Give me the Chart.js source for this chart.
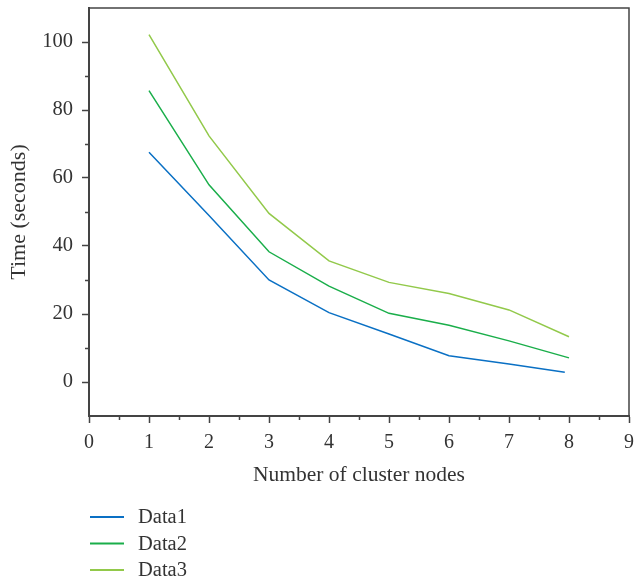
<!DOCTYPE html>
<html>
<head>
<meta charset="utf-8">
<script src="https://cdn.jsdelivr.net/npm/chart.js@4"></script>
<style>
  html, body { margin: 0; padding: 0; background: #fff; }
  #wrap { width: 634px; height: 582px; position: relative; }
</style>
</head>
<body>
<div id="wrap"><canvas id="chart" width="634" height="582"></canvas></div>
<script>
// values
const nodes1 = [1, 2, 3, 4, 5, 6, 7, 7.93];
const nodes = [1, 2, 3, 4, 5, 6, 7, 8];
const data1 = [67.6, 49, 30, 20.4, 14.1, 7.7, 5.3, 2.9];
const data2 = [85.7, 58, 38.3, 28.2, 20.2, 16.7, 12.1, 7.1];
const data3 = [102.2, 72.4, 49.6, 35.6, 29.3, 26, 21.2, 13.3];
const seriesNames = ['Data1', 'Data2', 'Data3'];
const seriesColors = ['#0a70c4', '#1aae4a', '#92c94a'];
const xTitle = 'Number of cluster nodes';
const yTitle = 'Time (seconds)';

const FONT = "'Liberation Serif', 'DejaVu Serif', serif";
const INK = '#333';

function toPoints(xs, ys) {
  return xs.map((x, i) => ({ x: x, y: ys[i] }));
}

function isMajorY(v) {
  return v >= 0 && v <= 100 && v % 20 === 0;
}

// minor ticks + top/right frame lines
const framePlugin = {
  id: 'frame',
  afterDraw(chart) {
    const { ctx, chartArea: a, scales } = chart;
    ctx.save();
    ctx.strokeStyle = '#444';
    ctx.lineWidth = 1.5;
    ctx.beginPath();
    ctx.moveTo(a.left, a.top);
    ctx.lineTo(a.right, a.top);
    ctx.lineTo(a.right, a.bottom);
    ctx.stroke();

    ctx.beginPath();
    for (let v = 0.5; v < 9; v += 1) {
      const px = Math.round(scales.x.getPixelForValue(v)) + 0.5;
      ctx.moveTo(px, a.bottom);
      ctx.lineTo(px, a.bottom + 4);
    }
    for (let v = 10; v <= 100; v += 20) {
      const py = Math.round(scales.y.getPixelForValue(v)) + 0.5;
      ctx.moveTo(a.left, py);
      ctx.lineTo(a.left - 4, py);
    }
    ctx.stroke();
    ctx.restore();
  }
};

// vertical legend under the plot
const legendPlugin = {
  id: 'vlegend',
  afterDraw(chart) {
    const { ctx } = chart;
    const x0 = 90, y0 = 517, rowH = 26.5;
    ctx.save();
    ctx.font = '20.5px ' + FONT;
    ctx.textBaseline = 'middle';
    chart.data.datasets.forEach((ds, i) => {
      const y = y0 + i * rowH;
      ctx.strokeStyle = ds.borderColor;
      ctx.lineWidth = 2;
      ctx.beginPath();
      ctx.moveTo(x0, y);
      ctx.lineTo(x0 + 34, y);
      ctx.stroke();
      ctx.fillStyle = INK;
      ctx.fillText(ds.label, x0 + 48, y + 1);
    });
    ctx.restore();
  }
};

const datasets = [
  { label: seriesNames[0], data: toPoints(nodes1, data1) },
  { label: seriesNames[1], data: toPoints(nodes, data2) },
  { label: seriesNames[2], data: toPoints(nodes, data3) }
].map((ds, i) => Object.assign(ds, {
  borderColor: seriesColors[i],
  backgroundColor: seriesColors[i],
  borderWidth: 1.5,
  pointRadius: 0,
  tension: 0,
  fill: false
}));

new Chart(document.getElementById('chart').getContext('2d'), {
  type: 'line',
  data: { datasets: datasets },
  options: {
    responsive: false,
    animation: false,
    layout: { padding: { top: 8, right: 5, bottom: 94, left: 0 } },
    plugins: {
      legend: { display: false },
      tooltip: { enabled: false }
    },
    scales: {
      x: {
        type: 'linear',
        min: 0,
        max: 9,
        ticks: {
          stepSize: 1,
          color: INK,
          padding: 8,
          font: { family: FONT, size: 20 }
        },
        grid: { drawOnChartArea: false, tickLength: 7, tickColor: '#444', tickWidth: 1.5 },
        border: { color: '#444', width: 2 },
        title: {
          display: true,
          text: xTitle,
          color: INK,
          font: { family: FONT, size: 21.5 },
          padding: { top: 12, bottom: 0 }
        },
        afterFit(scale) {
          scale.height = 72;
          scale.paddingLeft = 0;
          scale.paddingRight = 0;
        }
      },
      y: {
        min: -10,
        max: 110,
        ticks: {
          stepSize: 10,
          autoSkip: false,
          color: INK,
          padding: 9,
          font: { family: FONT, size: 20.5 },
          callback: v => isMajorY(v) ? v : ''
        },
        grid: {
          drawOnChartArea: false,
          tickLength: 7,
          tickWidth: 1.5,
          tickColor: ctx => (ctx.tick && isMajorY(ctx.tick.value)) ? '#444' : 'rgba(0,0,0,0)'
        },
        border: { color: '#444', width: 2 },
        title: {
          display: true,
          text: yTitle,
          color: INK,
          font: { family: FONT, size: 22 },
          padding: { top: 6, bottom: 2 }
        },
        afterFit(scale) {
          scale.width = 89;
          scale.paddingTop = 0;
          scale.paddingBottom = 0;
        }
      }
    }
  },
  plugins: [framePlugin, legendPlugin]
});
</script>
</body>
</html>
